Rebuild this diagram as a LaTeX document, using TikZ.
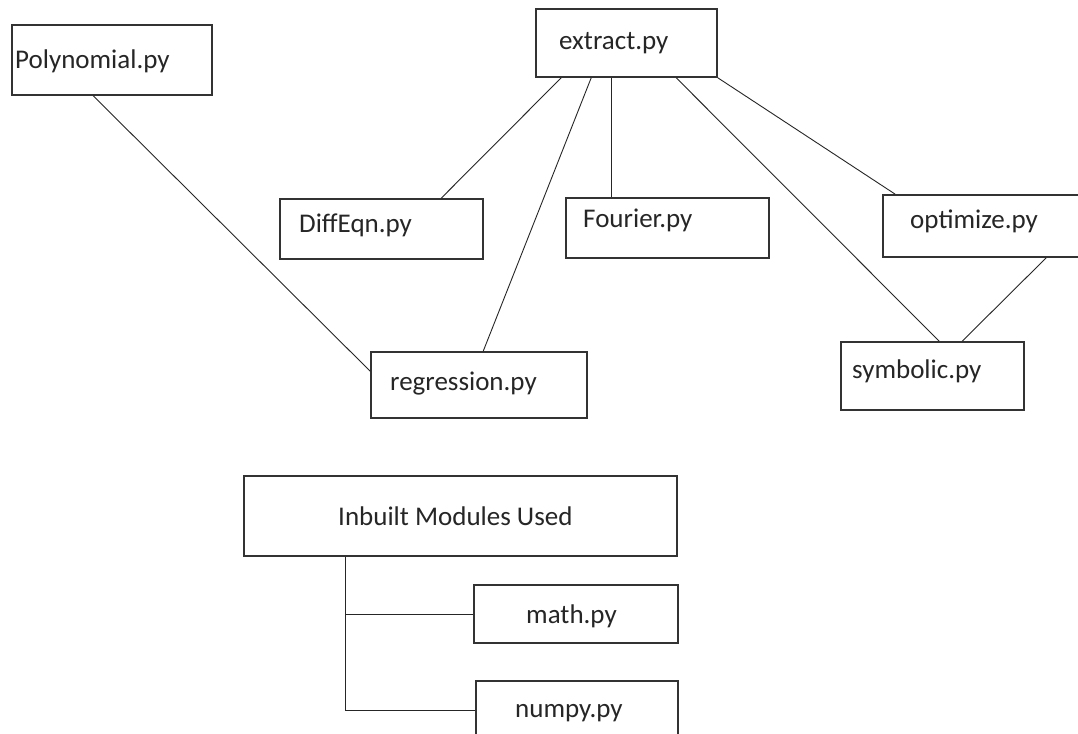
\documentclass[tikz,border=0pt]{standalone}
\usepackage{fontspec}
\setmainfont{Carlito}
\usepackage{tikz}

\begin{document}
\begin{tikzpicture}[x=1pt,y=-1pt,
    box/.style={draw=black!80,line width=1.6pt,inner sep=0pt},
    txt/.style={anchor=base west,inner sep=0pt,text=black!85,font=\fontsize{27}{32}\selectfont},
    link/.style={draw=black!85,line width=0.9pt}]
    % Page and clipping
    \clip (0,0) rectangle (1078,733);
    \fill[white] (0,0) rectangle (1078,733);

    % Draw module boxes
    \node[box,minimum width=200,minimum height=70] (poly) at (112,60) {};
    \node[box,minimum width=181,minimum height=68] (extract) at (626.5,43) {};
    \node[box,minimum width=203,minimum height=60] (diffeqn) at (381.5,229) {};
    \node[box,minimum width=203,minimum height=60] (fourier) at (667.5,228) {};
    \node[box,minimum width=216,minimum height=66] (regression) at (479,385) {};
    \node[box,minimum width=207,minimum height=62] (optimize) at (986.5,226) {};
    \node[box,minimum width=183,minimum height=68] (symbolic) at (932.5,376) {};

    % Label modules
    \node[txt] (polytxt) at (15,69) {Polynomial.py};
    \node[txt] (extracttxt) at (559,50) {extract.py};
    \node[txt] (diffeqntxt) at (299,232) {DiffEqn.py};
    \node[txt] (fouriertxt) at (583,227) {Fourier.py};
    \node[txt] (regressiontxt) at (390,390) {regression.py};
    \node[txt] (optimizetxt) at (910,228) {optimize.py};
    \node[txt] (symbolictxt) at (852,378) {symbolic.py};

    % Draw links
    \draw[link] ([xshift=82pt]poly.south west) -- ([yshift=-20pt]regression.north west);
    \draw[link] ([xshift=26pt]extract.south west) -- ([xshift=162pt]diffeqn.north west);
    \draw[link] ([xshift=56pt]extract.south west) -- ([xshift=113pt]regression.north west);
    \draw[link] ([xshift=76pt]extract.south west) -- ([xshift=46pt]fourier.north west);
    \draw[link] ([xshift=141pt]extract.south west) -- ([xshift=99pt]symbolic.north west);
    \draw[link] (extract.south east) -- ([xshift=13pt]optimize.north west);
    \draw[link] ([xshift=164pt]optimize.south west) -- ([xshift=122pt]symbolic.north west);

    % Inbuilt modules
    \node[box,minimum width=433,minimum height=80] (inbuilt) at (460.5,516) {};
    \node[box,minimum width=204,minimum height=58] (math) at (576,614) {};
    \node[box,minimum width=202,minimum height=58] (numpy) at (577,710) {};
    \node[txt] (inbuilttxt) at (338,525) {Inbuilt Modules Used};
    \node[txt] (mathtxt) at (526,623) {math.py};
    \node[txt] (numpytxt) at (515,717) {numpy.py};

    \draw[link] ([xshift=102pt]inbuilt.south west) coordinate (trunk) |- (numpy.west);
    \draw[link] (trunk |- math.west) -- (math.west);
\end{tikzpicture}
\end{document}
